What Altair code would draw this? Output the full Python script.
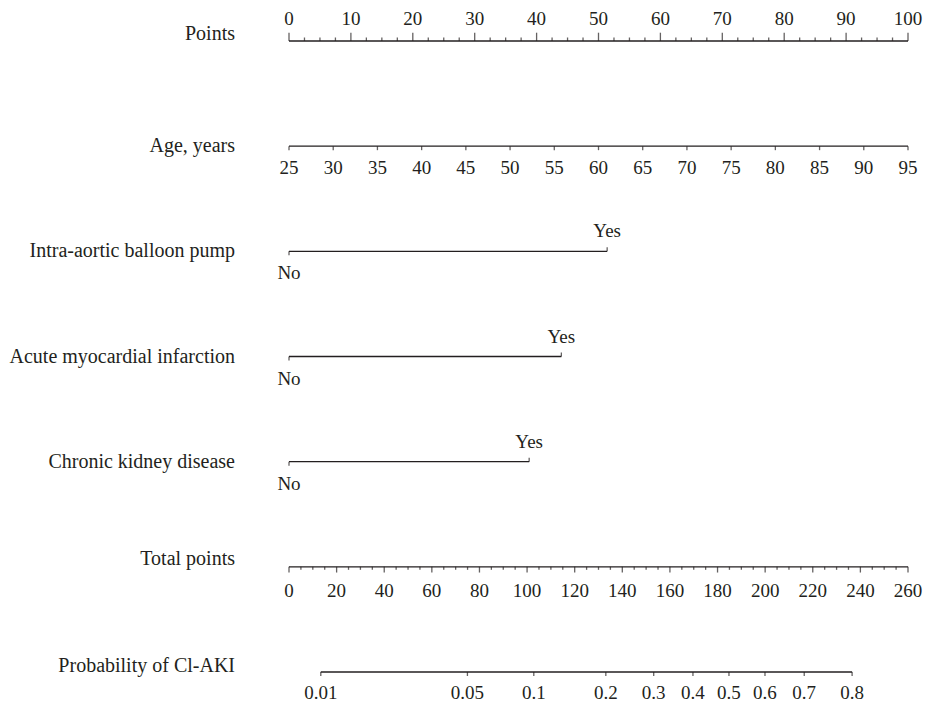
import math
import altair as alt
import pandas as pd

# ---------------- data ----------------
rows = ["Points", "Age, years", "Intra-aortic balloon pump",
        "Acute myocardial infarction", "Chronic kidney disease",
        "Total points", "Probability of Cl-AKI"]

points_major = list(range(0, 101, 10))
points_minor = [v / 2 for v in range(0, 201, 5)]          # every 2.5 points
age_ticks = list(range(25, 96, 5))
age_min, age_max = 25, 95
binary_rows = ["Intra-aortic balloon pump", "Acute myocardial infarction",
               "Chronic kidney disease"]
binary_yes_points = [51.4, 44.0, 38.8]
total_major = list(range(0, 261, 20))
total_minor = list(range(0, 261, 5))
total_max = 260
prob_values = [0.01, 0.05, 0.1, 0.2, 0.3, 0.4, 0.5, 0.6, 0.7, 0.8]
prob_labels = ["0.01", "0.05", "0.1", "0.2", "0.3", "0.4", "0.5", "0.6", "0.7", "0.8"]
tp_at_logit0 = 184.8      # total points where linear predictor = 0
tp_per_logit = 37.31      # total points per unit of logit

# ---------------- conversions to the Points scale ----------------
def age_pts(a):
    return (a - age_min) / (age_max - age_min) * 100

def tp_pts(t):
    return t / total_max * 100

def prob_pts(p):
    return tp_pts(tp_at_logit0 + tp_per_logit * math.log(p / (1 - p)))

# lines
line_recs = [
    {"row": "Points", "x": 0, "x2": 100},
    {"row": "Age, years", "x": 0, "x2": 100},
]
for r, v in zip(binary_rows, binary_yes_points):
    line_recs.append({"row": r, "x": 0, "x2": v})
line_recs.append({"row": "Total points", "x": 0, "x2": 100})
line_recs.append({"row": "Probability of Cl-AKI",
                  "x": prob_pts(prob_values[0]), "x2": prob_pts(prob_values[-1])})
lines = pd.DataFrame(line_recs)

# ticks
tick_recs = []
for v in points_major:
    tick_recs.append({"row": "Points", "x": v, "kind": "up_major"})
for v in points_minor:
    if v % 10 != 0:
        tick_recs.append({"row": "Points", "x": v, "kind": "up_minor"})
for a in age_ticks:
    tick_recs.append({"row": "Age, years", "x": age_pts(a), "kind": "down"})
for r, v in zip(binary_rows, binary_yes_points):
    tick_recs.append({"row": r, "x": 0, "kind": "down"})
    tick_recs.append({"row": r, "x": v, "kind": "up"})
for t in total_minor:
    tick_recs.append({"row": "Total points", "x": tp_pts(t),
                      "kind": "down_major" if t % 20 == 0 else "down_minor"})
for p in prob_values:
    tick_recs.append({"row": "Probability of Cl-AKI", "x": prob_pts(p), "kind": "down"})
ticks = pd.DataFrame(tick_recs)

# tick labels
lab_recs = []
for v in points_major:
    lab_recs.append({"row": "Points", "x": v, "text": str(v), "kind": "points"})
for a in age_ticks:
    lab_recs.append({"row": "Age, years", "x": age_pts(a), "text": str(a), "kind": "age"})
for r, v in zip(binary_rows, binary_yes_points):
    lab_recs.append({"row": r, "x": 0, "text": "No", "kind": "no"})
    lab_recs.append({"row": r, "x": v, "text": "Yes", "kind": "yes"})
for t in total_major:
    lab_recs.append({"row": "Total points", "x": tp_pts(t), "text": str(t), "kind": "total"})
for p, s in zip(prob_values, prob_labels):
    lab_recs.append({"row": "Probability of Cl-AKI", "x": prob_pts(p), "text": s, "kind": "prob"})
labels = pd.DataFrame(lab_recs)

row_df = pd.DataFrame({"row": rows,
                       "grp": ["top", "mid", "mid", "mid", "mid", "top", "prob"]})

# ---------------- encodings ----------------
FONT = "Liberation Serif"
INK = "#231f20"
X = alt.X("x:Q", scale=alt.Scale(domain=[0, 100], range=[281, 900]), axis=None)
Y = alt.Y("row:N", scale=alt.Scale(type="point", domain=rows, range=[29, 660], padding=0),
          axis=None)

base_lines = alt.Chart(lines).mark_rule(color=INK, strokeWidth=1.3).encode(
    x=X, x2="x2:Q", y=Y)

def tick_layer(kind, length, up):
    off = -length / 2 if up else length / 2
    return alt.Chart(ticks).transform_filter(alt.datum.kind == kind).mark_tick(
        color=INK, thickness=1.3, size=length, yOffset=off, orient="vertical"
    ).encode(x=X, y=Y)

tick_layers = [
    tick_layer("up_major", 8.3, True),
    tick_layer("up_minor", 3.5, True),
    tick_layer("down", 4, False),
    tick_layer("up", 4, True),
    tick_layer("down_major", 5.7, False),
    tick_layer("down_minor", 3, False),
]

def lab_layer(kind, dy):
    return alt.Chart(labels).transform_filter(alt.datum.kind == kind).mark_text(
        font=FONT, fontSize=19, color=INK, align="center", baseline="alphabetic", dy=dy
    ).encode(x=X, y=Y, text="text:N")

lab_layers = [
    lab_layer("points", -16.5),
    lab_layer("age", 27.6),
    lab_layer("no", 28),
    lab_layer("yes", -14),
    lab_layer("total", 30),
    lab_layer("prob", 26.6),
]

def row_layer(grp, dy):
    return alt.Chart(row_df).transform_filter(alt.datum.grp == grp).mark_text(
        font=FONT, fontSize=20, color=INK, align="right", baseline="alphabetic", dy=dy
    ).encode(x=alt.value(227), y=Y, text="row:N")

row_layers = [row_layer("top", -1.5), row_layer("mid", 6), row_layer("prob", 0)]

chart = alt.layer(base_lines, *tick_layers, *lab_layers, *row_layers).properties(
    width=915, height=691,
    padding={"left": 0, "top": 4, "right": 0, "bottom": 0},
    autosize=alt.AutoSizeParams(type="none"),
).configure_view(stroke=None)

chart.save("out.html", embed_options={"renderer": "svg", "actions": False})
